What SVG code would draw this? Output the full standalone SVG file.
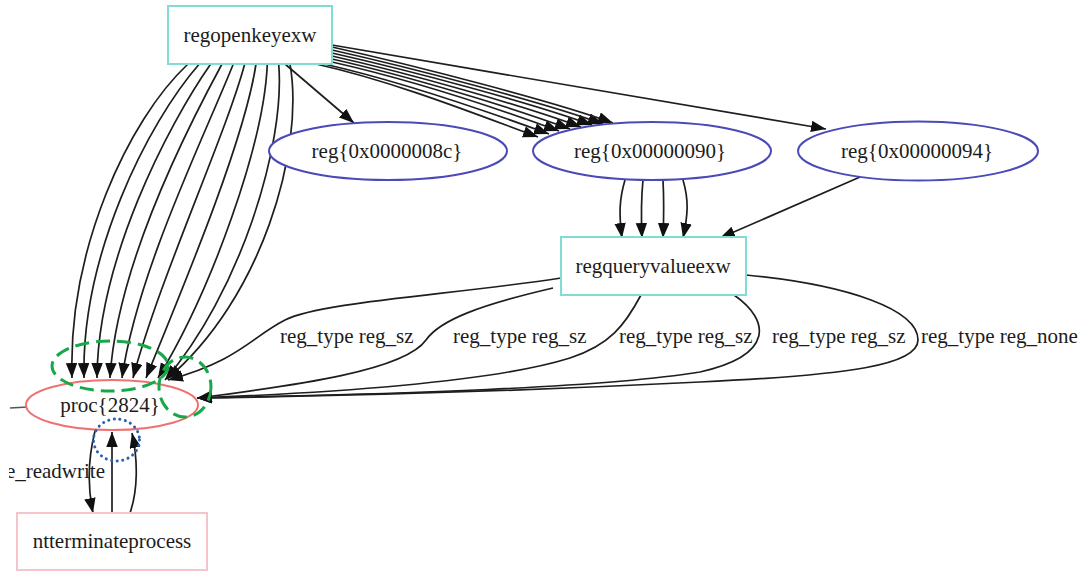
<svg xmlns="http://www.w3.org/2000/svg" width="1087" height="574" viewBox="0 0 1087 574">
<style>
text{font-family:"Liberation Serif","Times New Roman",serif;font-size:21px;fill:#1c1c1c}
.nl{text-anchor:middle}
.box{fill:#fff;stroke:#82dcd4;stroke-width:2}
.reg{fill:#fff;stroke:#4a4ab8;stroke-width:2}
.proc{fill:#fff;stroke:#ee7272;stroke-width:2}
.nt{fill:#fff;stroke:#f7c4cc;stroke-width:2}
.e{fill:none;stroke:#1e1e1e;stroke-width:1.7;marker-end:url(#arr)}
.green{fill:none;stroke:#17a84a;stroke-width:3;stroke-dasharray:14 7}
.dot{fill:none;stroke:#2b62b0;stroke-width:3;stroke-dasharray:0.1 5.5;stroke-linecap:round}
</style>
<defs>
<marker id="arr" markerUnits="userSpaceOnUse" markerWidth="17" markerHeight="13" refX="15" refY="5.75" orient="auto">
<path d="M0,0 L15,5.75 L0,11.5 z" fill="#111"/>
</marker>
<clipPath id="clipL"><rect x="9" y="0" width="200" height="574"/></clipPath>
</defs>
<rect width="1087" height="574" fill="#fff"/>
<g id="connectors">
<!-- regopenkeyexw -> proc -->
<path class="e" d="M188,64 C128,120 68,250 72,378"/>
<path class="e" d="M199.3,64 C147.4,123.3 81.2,255.6 84,378"/>
<path class="e" d="M210.7,64 C166.9,126.7 97.7,261.1 97,378"/>
<path class="e" d="M222,64 C186.3,130 116.7,266.7 110,378"/>
<path class="e" d="M233.3,64 C205.8,133.3 137,272.2 122,378"/>
<path class="e" d="M244.7,64 C225.2,136.7 159.6,277.8 133,378"/>
<path class="e" d="M256,64 C244.7,140 184.7,283.3 146,378"/>
<path class="e" d="M267.3,64 C264.1,143.3 212.1,288.9 158,378"/>
<path class="e" d="M278.7,64 C285.6,146.7 238.8,294.4 165,380"/>
<path class="e" d="M290,64 C305,150 261,300 167,379"/>
<!-- regopenkeyexw -> reg8c -->
<path class="e" d="M285,64 L354,123"/>
<!-- regopenkeyexw -> reg90 (bundle) -->
<path class="e" d="M316,64 C396,82 478,115 538,137"/>
<path class="e" d="M324,64 C404,82 489,112 549,134"/>
<path class="e" d="M332,62 C412,80 499,109 559,131"/>
<path class="e" d="M332,59 C412,77 510,107 570,129"/>
<path class="e" d="M332,56 C412,74 521,105 581,127"/>
<path class="e" d="M332,53 C412,71 532,103 592,125"/>
<path class="e" d="M332,50 C412,68 543,102 603,124"/>
<path class="e" d="M332,47 C412,65 553,101 613,123"/>
<!-- regopenkeyexw -> reg94 -->
<path class="e" d="M332,45 C500,74 700,107 826,129"/>
<!-- reg90 -> regquery -->
<path class="e" d="M625,180 C619,200 619,215 622,238"/>
<path class="e" d="M643,180 C641,200 641,215 642,238"/>
<path class="e" d="M663,180 C664,200 664,215 663,238"/>
<path class="e" d="M683,180 C689,200 688,215 683,238"/>
<!-- reg94 -> regquery -->
<path class="e" d="M860,177 L720,238"/>
<!-- regquery -> proc -->
<path class="e" d="M561,278 C450,295 320,302 285,320 S240,360 168,380"/>
<path class="e" d="M553,288 C480,305 440,320 426,340 C405,370 300,385 197,398"/>
<path class="e" d="M641,295 C625,325 610,345 570,358 C500,380 350,392 197,398"/>
<path class="e" d="M734,295 C770,320 775,355 700,372 C600,388 400,394 197,398"/>
<path class="e" d="M746,275 C850,285 918,310 918,340 C918,365 850,375 700,382 C500,392 350,396 197,398"/>
<!-- proc <-> ntterminateprocess -->
<path class="e" d="M95,431 C89,455 87,485 93,513"/>
<path class="e" d="M112,513 L112,432"/>
<path class="e" d="M130,513 C138,490 138,460 132,433"/>
<!-- incoming stub from left -->
<path d="M10,408 L28,407" stroke="#555" stroke-width="1.5" fill="none"/>
<!-- edge labels -->
<text x="280" y="343">reg_type reg_sz</text>
<text x="453" y="343">reg_type reg_sz</text>
<text x="619" y="343">reg_type reg_sz</text>
<text x="772" y="343">reg_type reg_sz</text>
<text x="921" y="343">reg_type reg_none</text>
<text x="105" y="478" text-anchor="end" clip-path="url(#clipL)">e_readwrite</text>
</g>
<g id="regopenkeyexw">
<rect class="box" x="168" y="6" width="164" height="58"/>
<text class="nl" x="250" y="42">regopenkeyexw</text>
</g>
<g id="reg8c">
<ellipse class="reg" cx="388" cy="151" rx="119" ry="29"/>
<text class="nl" x="387" y="158">reg{0x0000008c}</text>
</g>
<g id="reg90">
<ellipse class="reg" cx="652" cy="151" rx="119" ry="29"/>
<text class="nl" x="650" y="158">reg{0x00000090}</text>
</g>
<g id="reg94">
<ellipse class="reg" cx="918" cy="151" rx="120" ry="29.5"/>
<text class="nl" x="917" y="158">reg{0x00000094}</text>
</g>
<g id="regqueryvalueexw">
<rect class="box" x="561" y="237" width="185" height="58"/>
<text class="nl" x="653" y="273">regqueryvalueexw</text>
</g>
<g id="proc2824">
<ellipse class="proc" cx="112" cy="405" rx="86" ry="25"/>
<text class="nl" x="110" y="412">proc{2824}</text>
</g>
<g id="ntterminateprocess">
<rect class="nt" x="17" y="513" width="190" height="57"/>
<text class="nl" x="112" y="548">ntterminateprocess</text>
</g>
<g id="annotations">
<ellipse class="green" cx="110" cy="366" rx="58" ry="25"/>
<ellipse class="green" cx="185" cy="387" rx="26" ry="30"/>
<ellipse class="dot" cx="116.5" cy="440" rx="23" ry="21"/>
</g>
</svg>
